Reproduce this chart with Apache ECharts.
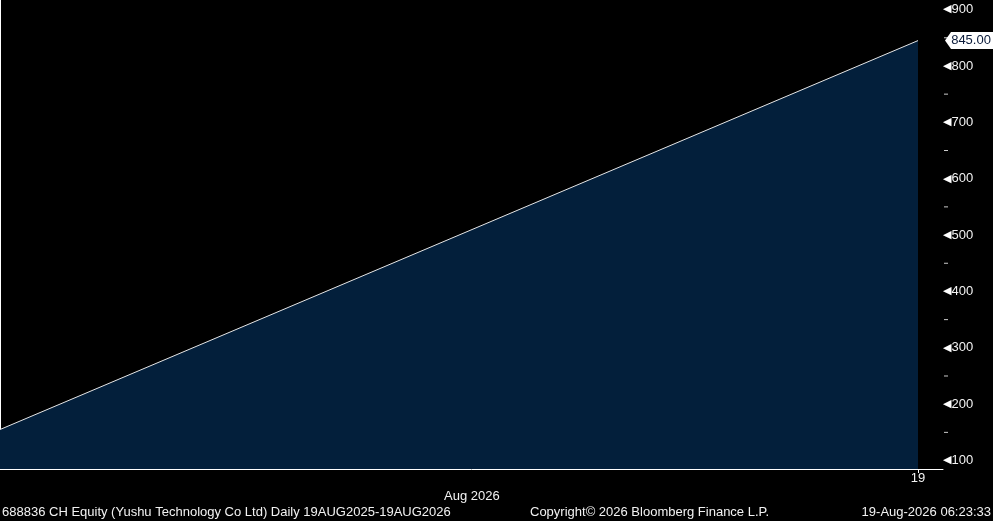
<!DOCTYPE html>
<html>
<head>
<meta charset="utf-8">
<style>
  html, body { margin: 0; padding: 0; background: #000; }
  #chart { width: 993px; height: 521px; }
</style>
<script src="https://cdn.jsdelivr.net/npm/echarts@6/dist/echarts.min.js"></script>
</head>
<body>
<div id="chart"></div>
<script>
// ---- data ----
const dates = ['19AUG2025', '19AUG2026'];
const dayIndex = [0, 1];
const prices = [155, 845];
const yTickValues = [100, 200, 300, 400, 500, 600, 700, 800, 900];
const yMinorTickValues = [150, 250, 350, 450, 550, 650, 750, 850];
const xTickValues = [1];
const xTickLabels = ['19'];
const monthLabelValues = [0.514];
const monthLabels = ['Aug 2026'];
const footerLeft = '688836 CH Equity (Yushu Technology Co Ltd) Daily 19AUG2025-19AUG2026';
const footerMid = 'Copyright\u00A9 2026 Bloomberg Finance L.P.';
const footerRight = '19-Aug-2026 06:23:33';

const FONT = 'Liberation Sans';
const TXT = '#f2f2f2';
const X_MAX = 1.0272;

const chart = echarts.init(document.getElementById('chart'));
const seriesData = dayIndex.map((d, i) => [d, prices[i]]);
const lastPrice = prices[prices.length - 1];

chart.setOption({
  backgroundColor: '#000000',
  animation: false,
  grid: { left: 0, right: 50, top: 0, bottom: 52, containLabel: false },
  xAxis: [
    {
      type: 'value', min: 0, max: X_MAX,
      axisLine: { show: true, lineStyle: { color: '#ffffff', width: 1 } },
      axisTick: { show: true, customValues: xTickValues, length: 4, lineStyle: { color: '#ffffff' } },
      axisLabel: {
        show: true, customValues: xTickValues,
        formatter: v => xTickLabels[xTickValues.indexOf(v)] || '',
        color: TXT, fontFamily: FONT, fontSize: 13, margin: 3
      },
      splitLine: { show: false }
    },
    {
      type: 'value', min: 0, max: X_MAX, position: 'bottom', offset: 19,
      axisLine: { show: false, lineStyle: { opacity: 0 } },
      axisTick: { show: false, length: 0, lineStyle: { opacity: 0 } },
      minorTick: { show: false },
      axisLabel: {
        show: true, customValues: monthLabelValues,
        formatter: v => monthLabels[monthLabelValues.indexOf(v)] || '',
        color: TXT, fontFamily: FONT, fontSize: 13, margin: 2
      },
      splitLine: { show: false }
    }
  ],
  yAxis: [
    {
      type: 'value', position: 'right', min: 85, max: 917,
      axisLine: { show: true, lineStyle: { color: '#ffffff', width: 1 } },
      axisTick: { show: false },
      axisLabel: {
        show: true, customValues: yTickValues, margin: 0,
        formatter: v => '{t|\u25C0}{v|' + v + '}',
        rich: {
          t: { color: '#ffffff', fontSize: 11, fontFamily: 'DejaVu Sans' },
          v: { color: TXT, fontSize: 13, fontFamily: FONT }
        }
      },
      splitLine: { show: false }
    }
  ],
  series: [
    {
      type: 'line',
      data: seriesData,
      symbol: 'none',
      lineStyle: { color: '#e6e6e6', width: 1 },
      areaStyle: { color: '#031f3b', opacity: 1 },
      markPoint: {
        silent: true,
        data: [{ coord: [dayIndex[dayIndex.length - 1], lastPrice], value: lastPrice }],
        symbol: 'path://M0,8 L6,0 L48,0 L48,16 L6,16 Z',
        symbolSize: [48, 17],
        symbolOffset: [51, 0],
        itemStyle: { color: '#ffffff' },
        label: {
          show: true, position: 'inside', offset: [2, 0],
          formatter: p => p.value.toFixed(2),
          color: '#0a1a3a', fontFamily: FONT, fontSize: 13
        }
      }
    },
    {
      // minor tick marks on the right value axis
      type: 'scatter',
      data: yMinorTickValues.map(v => [X_MAX, v]),
      symbol: 'rect',
      symbolSize: [4, 1],
      symbolOffset: [3, 0],
      clip: false,
      silent: true,
      itemStyle: { color: '#ffffff' },
      z: 5
    }
  ],
  graphic: [
    { type: 'text', left: 2, top: 506, style: { text: footerLeft, fill: TXT, font: '13px "' + FONT + '"' } },
    { type: 'text', left: 530, top: 506, style: { text: footerMid, fill: TXT, font: '13px "' + FONT + '"' } },
    { type: 'text', right: 2, top: 506, style: { text: footerRight, fill: TXT, font: '13px "' + FONT + '"' } }
  ]
});
</script>
</body>
</html>
